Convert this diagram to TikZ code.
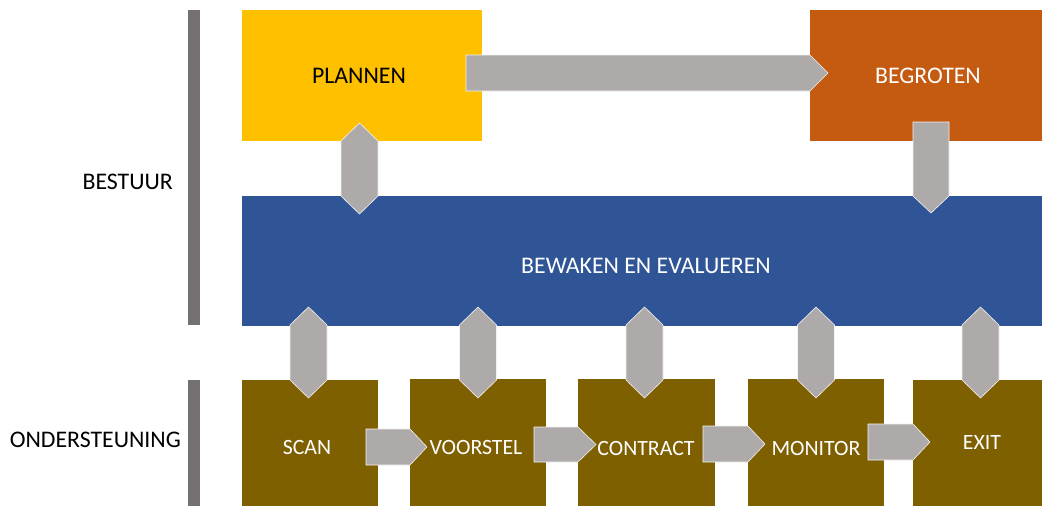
\documentclass[tikz,border=0pt]{standalone}
\usepackage{fontspec}
\setmainfont{Carlito}
\definecolor{cyellow}{HTML}{FFC000}
\definecolor{corange}{HTML}{C55A11}
\definecolor{cblue}{HTML}{2F5597}
\definecolor{colive}{HTML}{7F6000}
\definecolor{carrow}{HTML}{AEAAAA}
\definecolor{cbar}{HTML}{767171}
\begin{document}
\begin{tikzpicture}[x=1pt,y=-1pt,
  box/.style={anchor=north west,inner sep=0pt,outer sep=0pt},
  bigtext/.style={inner sep=0pt,font=\fontsize{23.8}{28}\selectfont},
  smalltext/.style={inner sep=0pt,text=white,font=\fontsize{21.8}{26}\selectfont},
  blockarrow/.style={fill=carrow,draw=white!85!carrow,line width=0.6pt},
  sidelabel/.style={anchor=east,inner sep=0pt,text=black,font=\fontsize{23.8}{28}\selectfont}]
\useasboundingbox (0,0) rectangle (1042,506);
% side bars
\fill[cbar] (188,10) rectangle (200,325);
\fill[cbar] (188,380) rectangle (200,506);
\node[sidelabel] (bestuur) at (173,182) {BESTUUR};
\node[sidelabel] (onder) at (181,440) {ONDERSTEUNING};
% main boxes
\node[box,fill=cyellow,minimum width=240pt,minimum height=131pt] (plan) at (242,10) {};
\node[bigtext,text=black] (plant) at (359,76) {PLANNEN};
\node[box,fill=corange,minimum width=232pt,minimum height=131pt] (begr) at (810,10) {};
\node[bigtext,text=white] (begrt) at (928,76) {BEGROTEN};
\node[box,fill=cblue,minimum width=800pt,minimum height=130pt] (bew) at (242,196) {};
\node[bigtext,text=white] (bewt) at (646,266) {BEWAKEN EN EVALUEREN};
% bottom boxes
\node[box,fill=colive,minimum width=136pt,minimum height=126pt] (scan) at (242,380) {};
\node[box,fill=colive,minimum width=136pt,minimum height=127pt] (voor) at (410,379) {};
\node[box,fill=colive,minimum width=137pt,minimum height=127pt] (contr) at (578,379) {};
\node[box,fill=colive,minimum width=136pt,minimum height=127pt] (mon) at (748,379) {};
\node[box,fill=colive,minimum width=129pt,minimum height=126pt] (exit) at (913,380) {};
% horizontal arrows
\filldraw[blockarrow] (466,55) -- (810,55) -- (828,73) -- (810,91) -- (466,91) -- cycle;
\filldraw[blockarrow] (366,429) -- (410,429) -- (427,447) -- (410,465) -- (366,465) -- cycle;
\filldraw[blockarrow] (534,427) -- (578,427) -- (596,444.5) -- (578,462) -- (534,462) -- cycle;
\filldraw[blockarrow] (703,426) -- (748,426) -- (765,444) -- (748,462) -- (703,462) -- cycle;
\filldraw[blockarrow] (868,424) -- (913,424) -- (930,442) -- (913,460) -- (868,460) -- cycle;
% vertical arrows
\filldraw[blockarrow] (341,141) -- (359.5,123) -- (378,141) -- (378,196) -- (359.5,214) -- (341,196) -- cycle;
\filldraw[blockarrow] (913,122) -- (949,122) -- (949,196) -- (931,213) -- (913,196) -- cycle;
\foreach \cx in {308.5,478,644.5,816,980.5}{
  \filldraw[blockarrow] (\cx-18.5,325) -- (\cx,307) -- (\cx+18.5,325) -- (\cx+18.5,380) -- (\cx,398) -- (\cx-18.5,380) -- cycle;
}
% bottom labels
\node[smalltext] (scant) at (307,447) {SCAN};
\node[smalltext] (voort) at (476,447) {VOORSTEL};
\node[smalltext] (contrt) at (646,448) {CONTRACT};
\node[smalltext] (mont) at (816,448) {MONITOR};
\node[smalltext] (exitt) at (982,443) {EXIT};
\end{tikzpicture}
\end{document}
